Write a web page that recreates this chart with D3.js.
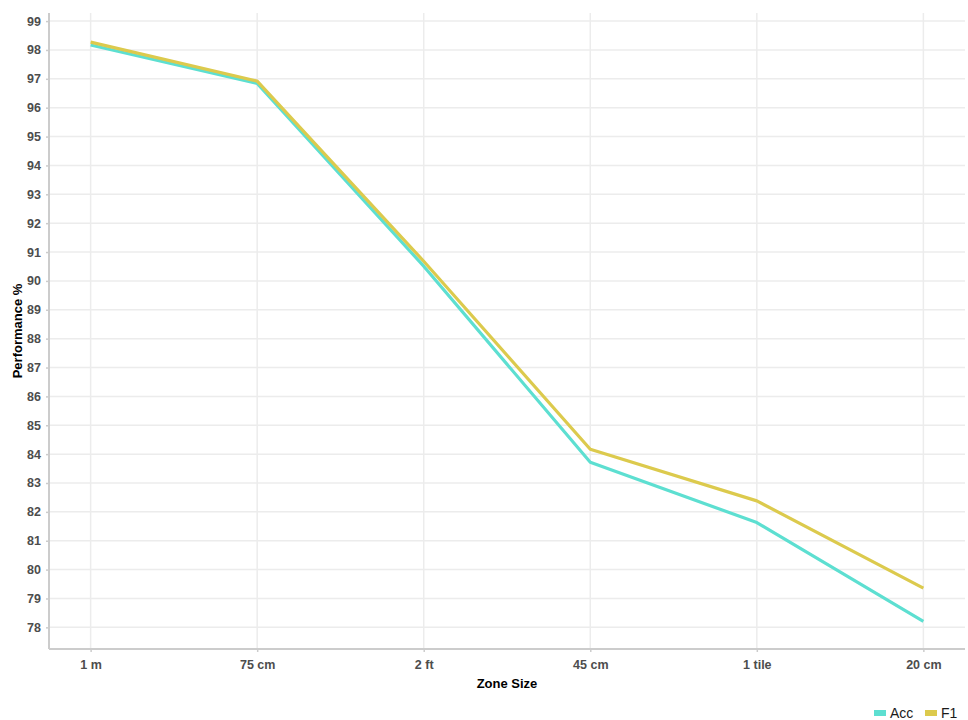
<!DOCTYPE html>
<html>
<head>
<meta charset="utf-8">
<script src="https://cdn.jsdelivr.net/npm/d3@7"></script>
<style>
  body { margin: 0; background: #fff; }
  text { font-family: 'Liberation Sans', Arial, sans-serif; }
  .tick text { font-size: 12.5px; font-weight: bold; fill: #4d4d4d; }
  .label { font-size: 13px; font-weight: bold; fill: #000; }
</style>
</head>
<body>
<div id="chart"></div>
<script>
var zones = ['1 m', '75 cm', '2 ft', '45 cm', '1 tile', '20 cm'];
var acc = [98.17, 96.84, 90.51, 83.72, 81.63, 78.21];
var f1 = [98.27, 96.92, 90.68, 84.17, 82.38, 79.36];
var yTicks = d3.range(78, 100);

var series = [
    { name: 'Acc', values: acc, color: '#5ddfd1' },
    { name: 'F1', values: f1, color: '#dcca4d' }
];

var margin = { top: 13, left: 49, bottom: 71, right: 3 },
    width = 968 - margin.left - margin.right,
    height = 720 - margin.top - margin.bottom;

var svg = d3.select('#chart').append('svg')
    .attr('width', 968)
    .attr('height', 720)
    .append('g')
    .attr('transform', 'translate(' + margin.left + ', ' + margin.top + ')');

var x = d3.scalePoint()
    .domain(zones)
    .range([0, width])
    .padding(0.25);

var y = d3.scaleLinear()
    .domain([77.25, 99.28])
    .range([height, 0]);

// gridlines
svg.append('g')
    .selectAll('line')
    .data(yTicks)
    .enter()
    .append('line')
    .attr('x1', 0)
    .attr('x2', width)
    .attr('y1', d => y(d))
    .attr('y2', d => y(d))
    .attr('stroke', '#ececec')
    .attr('stroke-width', 1.5);

svg.append('g')
    .selectAll('line')
    .data(zones)
    .enter()
    .append('line')
    .attr('x1', d => x(d))
    .attr('x2', d => x(d))
    .attr('y1', 0)
    .attr('y2', height)
    .attr('stroke', '#ececec')
    .attr('stroke-width', 1.5);

// axes
var xAxis = d3.axisBottom(x).tickSize(3).tickPadding(8);
var gx = svg.append('g')
    .attr('class', 'axis')
    .attr('transform', 'translate(0,' + height + ')')
    .call(xAxis);

var yAxis = d3.axisLeft(y).tickValues(yTicks).tickSize(3).tickPadding(5);
var gy = svg.append('g')
    .attr('class', 'axis')
    .call(yAxis);

[gx, gy].forEach(g => {
    g.select('.domain').attr('stroke', '#cccccc').attr('stroke-width', 2);
    g.selectAll('.tick line').attr('stroke', '#cccccc').attr('stroke-width', 1.5);
});
gx.select('.domain').attr('d', 'M0,0H' + width);
gy.select('.domain').attr('d', 'M0,0V' + height);

// lines
var line = d3.line()
    .x((d, i) => x(zones[i]))
    .y(d => y(d));

svg.selectAll('.series')
    .data(series)
    .enter()
    .append('path')
    .attr('class', 'series')
    .attr('fill', 'none')
    .attr('stroke', d => d.color)
    .attr('stroke-width', 3.2)
    .attr('stroke-linejoin', 'round')
    .attr('d', d => line(d.values));

// axis titles
svg.append('text')
    .attr('class', 'label')
    .attr('x', width / 2)
    .attr('y', height + 39)
    .attr('text-anchor', 'middle')
    .text('Zone Size');

svg.append('text')
    .attr('class', 'label')
    .attr('transform', 'rotate(-90)')
    .attr('x', -height / 2)
    .attr('y', -margin.left + 22)
    .attr('text-anchor', 'middle')
    .text('Performance %');

// legend
var legend = svg.append('g')
    .attr('transform', 'translate(' + (width - 91) + ',' + (height + 64) + ')');

var items = legend.selectAll('g')
    .data(series)
    .enter()
    .append('g')
    .attr('transform', (d, i) => 'translate(' + (i * 51) + ',0)');

items.append('rect')
    .attr('x', 0)
    .attr('y', -3)
    .attr('width', 12)
    .attr('height', 6)
    .attr('fill', d => d.color);

items.append('text')
    .attr('x', 16)
    .attr('y', 5)
    .style('font-size', '14px')
    .style('fill', '#1a1a1a')
    .text(d => d.name);
</script>
</body>
</html>
